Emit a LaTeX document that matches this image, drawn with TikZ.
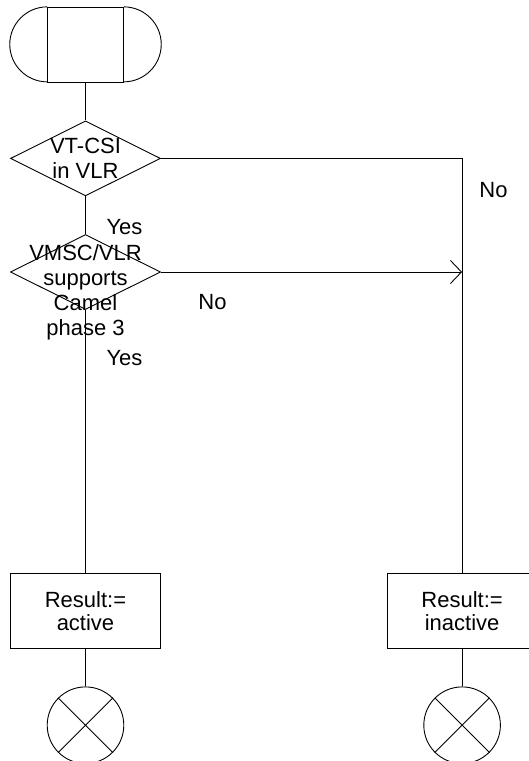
\documentclass[tikz,border=0pt]{standalone}
\usepackage{fontspec}
\setmainfont{Liberation Sans}
\usetikzlibrary{shapes.geometric, arrows.meta, positioning, calc}

\begin{document}
\begin{tikzpicture}[
    x=1pt, y=-1pt,
    line width=0.9pt,
    node distance=37.7pt,
    terminal/.style={rectangle, draw, minimum width=75.6pt, minimum height=75pt, inner sep=0pt},
    decision/.style={diamond, draw, minimum width=150pt, minimum height=75pt, inner sep=0pt},
    process/.style={rectangle, draw, minimum width=150pt, minimum height=75.3pt, inner sep=0pt, align=center, font=\fontsize{22}{23.5}\selectfont},
    stopnode/.style={circle, draw, minimum size=76.6pt, inner sep=0pt},
    txt/.style={align=center, inner sep=0pt, font=\fontsize{22}{25}\selectfont},
    lbl/.style={inner sep=0pt, font=\fontsize{22}{25}\selectfont},
    arr/.style={-{Straight Barb[length=11pt, width=23pt]}}
]
\useasboundingbox (0,0) rectangle (528,761);

\node[terminal] (start) at (85.5,44.8) {};
\draw (start.north west) arc[start angle=90, end angle=270, radius=37.5pt];
\draw (start.north east) arc[start angle=90, end angle=-90, radius=37.5pt];

\node[decision, below=of start] (csi) {};
\node[txt] (csiTxt) at (csi) {VT-CSI\\in VLR};
\node[decision, below=of csi] (camel) {};
\node[txt] (camelTxt) at ($(camel)+(0,20)$) {VMSC/VLR\\supports\\Camel\\phase 3};

\node[process, below=263pt of camel] (active) {Result:=\\active};
\node[process, right=225.7pt of active] (inactive) {Result:=\\inactive};
\node[stopnode, below=37.3pt of active] (endA) {};
\node[stopnode, below=37.3pt of inactive] (endB) {};

% crosses in the stop symbols
\draw (endA.north west) -- (endA.south east) (endA.north east) -- (endA.south west);
\draw (endB.north west) -- (endB.south east) (endB.north east) -- (endB.south west);

\draw (start) -- (csi);
\draw (csi) -- (camel);
\draw (camel) -- (active);
\draw (active) -- (endA);
\draw (inactive) -- (endB);
\draw (csi.east) -| (inactive.north);
\draw[arr] (camel.east) -- (camel.east -| inactive.north);

\node[lbl] (yesCsi) at (124.5,227) {Yes};
\node[lbl] (noCsi) at (493.5,190) {No};
\node[lbl] (yesCamel) at (124.5,358) {Yes};
\node[lbl] (noCamel) at (212.5,302) {No};

\end{tikzpicture}
\end{document}
